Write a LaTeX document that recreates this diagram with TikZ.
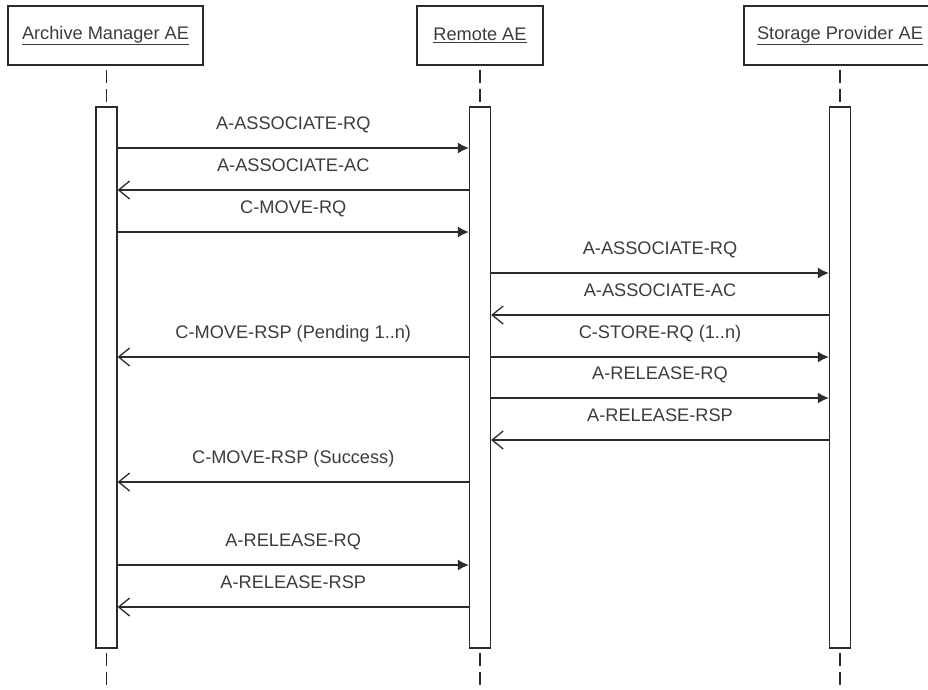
\documentclass[tikz,border=0pt]{standalone}
\usepackage{fontspec}
\setmainfont{Liberation Sans}
\usetikzlibrary{arrows.meta,positioning}
\definecolor{linegray}{HTML}{2B2B2B}
\definecolor{textgray}{HTML}{3C3C3C}
\tikzset{
	seqstyle/.style={
		x=1pt, y=-1pt,
		line width=1.3pt,
		draw=linegray,
		font=\fontsize{18.2}{21}\selectfont,
		text=textgray}}

\begin{document}
\begin{tikzpicture}[seqstyle,
	actor/.style={draw=linegray, rectangle, inner sep=0pt, minimum height=59pt},
	bar/.style={draw=linegray, fill=white, rectangle, inner sep=0pt, minimum width=21pt, minimum height=541pt},
	lifeline/.style={draw=linegray, dash pattern=on 13pt off 6pt, dash phase=15pt},
	req/.style={draw=linegray, -{Latex[length=11pt,width=11pt]}},
	rsp/.style={draw=linegray, -{Straight Barb[length=11pt,width=18pt]}},
	msg/.style={midway, anchor=base, yshift=19pt, inner sep=0pt},
	]

	\useasboundingbox (0,0) rectangle (928,689);

	% the three entities
	\node[actor, minimum width=195pt] (am) at (105.5,35.5) {\raisebox{-1pt}{\underline{Archive Manager AE}}};
	\node[actor, minimum width=126pt] (rem) at (480,35.5) {\raisebox{-1pt}{\underline{Remote AE}}};
	\node[actor, minimum width=192pt] (sp) at (840,35.5) {\raisebox{-1pt}{\underline{Storage Provider AE}}};

	% activation bars
	\node[bar] (amact) at (106.5,377.5) {};
	\node[bar] (remact) at (480,377.5) {};
	\node[bar] (spact) at (840,377.5) {};

	% lifelines
	\draw[lifeline] (amact.north |- am.south) -- (amact.north);
	\draw[lifeline] (remact.north |- rem.south) -- (remact.north);
	\draw[lifeline] (spact.north |- sp.south) -- (spact.north);
	\draw[lifeline] (amact.south) -- ++(0,41);
	\draw[lifeline] (remact.south) -- ++(0,41);
	\draw[lifeline] (spact.south) -- ++(0,41);

	% association with the remote AE
	\draw[req] (amact.east |- 0,148) -- (remact.west |- 0,148) node[msg] {A-ASSOCIATE-RQ};
	\draw[rsp] (remact.west |- 0,190) -- (amact.east |- 0,190) node[msg] {A-ASSOCIATE-AC};
	\draw[req] (amact.east |- 0,232) -- (remact.west |- 0,232) node[msg] {C-MOVE-RQ};

	% sub-operations towards the storage provider
	\draw[req] (remact.east |- 0,273) -- (spact.west |- 0,273) node[msg] {A-ASSOCIATE-RQ};
	\draw[rsp] (spact.west |- 0,315) -- (remact.east |- 0,315) node[msg] {A-ASSOCIATE-AC};
	\draw[req] (remact.east |- 0,357) -- (spact.west |- 0,357) node[msg] {C-STORE-RQ (1..n)};
	\draw[rsp] (remact.west |- 0,357) -- (amact.east |- 0,357) node[msg] {C-MOVE-RSP (Pending 1..n)};
	\draw[req] (remact.east |- 0,398) -- (spact.west |- 0,398) node[msg] {A-RELEASE-RQ};
	\draw[rsp] (spact.west |- 0,440) -- (remact.east |- 0,440) node[msg] {A-RELEASE-RSP};

	% final response and release
	\draw[rsp] (remact.west |- 0,482) -- (amact.east |- 0,482) node[msg] {C-MOVE-RSP (Success)};
	\draw[req] (amact.east |- 0,565) -- (remact.west |- 0,565) node[msg] {A-RELEASE-RQ};
	\draw[rsp] (remact.west |- 0,607) -- (amact.east |- 0,607) node[msg] {A-RELEASE-RSP};

\end{tikzpicture}
\end{document}
